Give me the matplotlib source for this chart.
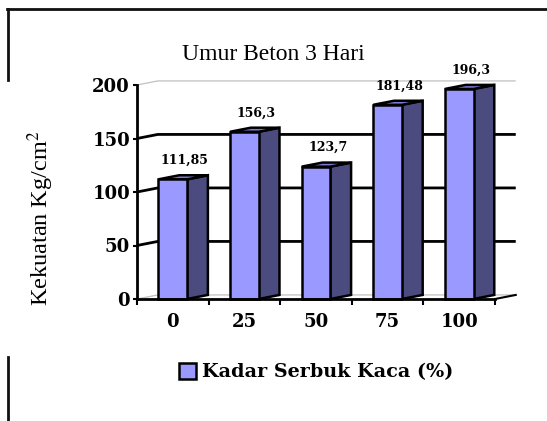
import matplotlib
matplotlib.use("Agg")
import matplotlib.pyplot as plt
from matplotlib.patches import Polygon, Patch
from matplotlib.lines import Line2D

# data
categories = ["0", "25", "50", "75", "100"]
values = [111.85, 156.3, 123.7, 181.48, 196.3]
value_labels = ["111,85", "156,3", "123,7", "181,48", "196,3"]
y_ticks = [0, 50, 100, 150, 200]

FRONT = "#9999ff"
SIDE = "#4b4b80"
TOP = "#7b7bd6"
DX, DY = 0.29, 3.8     # fake 3d depth (data units)
BAR_W = 0.4

W, H = 547, 421
fig = plt.figure(figsize=(W / 100, H / 100), dpi=100)
ax = fig.add_axes([137 / W, 122 / H, 358 / W, 214 / H])
ax.set_xlim(-0.5, len(categories) - 0.5)
ax.set_ylim(0, 200)

x_left, x_right = -0.5, len(categories) - 0.5

# back wall gridlines + left wall slants
for yv in y_ticks:
    if yv in (0, 200):
        col, lw = "#c0c0c0", 0.9
    else:
        col, lw = "black", 2.0
    ax.plot([x_left, x_left + DX, x_right + DX], [yv, yv + DY, yv + DY],
            color=col, lw=lw, zorder=1, clip_on=False, solid_capstyle="butt")
# floor right edge
ax.plot([x_right, x_right + DX], [0, DY], color="black", lw=1.5,
        zorder=1, clip_on=False)

# bars
for i, v in enumerate(values):
    x0 = i - BAR_W / 2
    x1 = i + BAR_W / 2
    front = Polygon([(x0, 0), (x1, 0), (x1, v), (x0, v)], closed=True,
                    facecolor=FRONT, edgecolor="black", lw=1.8,
                    joinstyle="miter", zorder=3, clip_on=False)
    side = Polygon([(x1, 0), (x1 + DX, DY), (x1 + DX, v + DY), (x1, v)],
                   closed=True, facecolor=SIDE, edgecolor="black", lw=1.8,
                   joinstyle="miter", zorder=3, clip_on=False)
    top = Polygon([(x0, v), (x1, v), (x1 + DX, v + DY), (x0 + DX, v + DY)],
                  closed=True, facecolor=TOP, edgecolor="black", lw=1.8,
                  joinstyle="miter", zorder=3, clip_on=False)
    for p in (side, top, front):
        ax.add_patch(p)
    ax.annotate(value_labels[i], (i + DX / 2, v + DY), xytext=(1, 6),
                textcoords="offset points", ha="center", va="bottom",
                fontsize=9, fontweight="bold", family="DejaVu Serif",
                zorder=4, annotation_clip=False)

# axes styling
for s in ("top", "right"):
    ax.spines[s].set_visible(False)
ax.spines["left"].set_linewidth(2)
ax.spines["bottom"].set_linewidth(2)
ax.spines["left"].set_zorder(5)
ax.spines["bottom"].set_zorder(5)

ax.set_yticks(y_ticks)
ax.set_yticklabels([str(t) for t in y_ticks], fontsize=13, fontweight="bold",
                   family="DejaVu Serif")
ax.tick_params(axis="y", length=3, width=1.5, pad=2)

ax.set_xticks([i - 0.5 for i in range(len(categories) + 1)])
ax.set_xticklabels([])
ax.set_xticks(range(len(categories)), minor=True)
ax.set_xticklabels(categories, minor=True, fontsize=13, fontweight="bold",
                   family="DejaVu Serif")
ax.tick_params(axis="x", which="major", length=4, width=1.5)
ax.tick_params(axis="x", which="minor", length=0, pad=10)

# text
fig.text(273 / W, 1 - 55 / H, "Umur Beton 3 Hari", family="Liberation Serif",
         fontsize=17, ha="center", va="center")
plt.rcParams["mathtext.fontset"] = "stix"
fig.text(41 / W, 1 - 218 / H, r"Kekuatan Kg/cm$^{2}$", family="Liberation Serif",
         fontsize=17.5, rotation=90, ha="center", va="center")

fig.legend(handles=[Patch(facecolor=FRONT, edgecolor="black", lw=1.8)],
           labels=["Kadar Serbuk Kaca (%)"], loc="center",
           bbox_to_anchor=(316 / W, 1 - 372 / H), frameon=False,
           handlelength=0.9, handleheight=0.9, handletextpad=0.3,
           prop={"family": "DejaVu Serif", "weight": "bold", "size": 13.8})

# outer frame fragments
frame = dict(transform=fig.transFigure, color="#111111", lw=2)
fig.add_artist(Line2D([7 / W, 1], [1 - 9 / H, 1 - 9 / H], **frame))
fig.add_artist(Line2D([8 / W, 8 / W], [1 - 9 / H, 1 - 80 / H], **frame))
fig.add_artist(Line2D([8 / W, 8 / W], [1 - 357 / H, 0], **frame))

fig.savefig("out.png", dpi=100)
